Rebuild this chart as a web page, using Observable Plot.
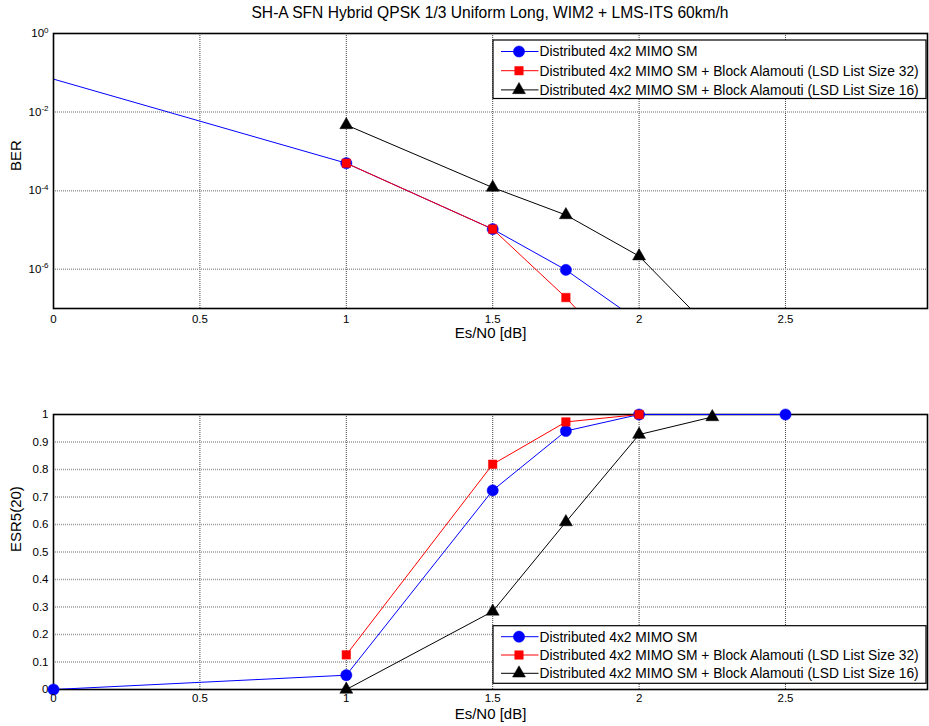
<!DOCTYPE html>
<html><head><meta charset="utf-8">
<script src="https://cdn.jsdelivr.net/npm/d3@7"></script>
<script src="https://cdn.jsdelivr.net/npm/@observablehq/plot@0.6"></script>
<style>
html,body{margin:0;padding:0;background:#fff;}
#fig{position:relative;width:929px;height:726px;overflow:hidden;font-family:"Liberation Sans",Arial,sans-serif;}
#title{position:absolute;left:53px;width:874px;top:4px;text-align:center;font-size:15.6px;color:#000;white-space:nowrap}
#topPlot{position:absolute;left:0;top:0}
#botPlot{position:absolute;left:0;top:363px}
</style></head><body>
<div id="fig">
  <div id="topPlot"></div>
  <div id="botPlot"></div>
  <div id="title">SH-A SFN Hybrid QPSK 1/3 Uniform Long, WIM2 + LMS-ITS 60km/h</div>
</div>
<script>
// ---------- data ----------
const seriesNames = [
  "Distributed 4x2 MIMO SM",
  "Distributed 4x2 MIMO SM + Block Alamouti (LSD List Size 32)",
  "Distributed 4x2 MIMO SM + Block Alamouti (LSD List Size 16)"
];
const seriesColors = ["#0000ff", "#ff0000", "#000000"];
const seriesSymbols = ["circle", "square", "triangle"];

// BER (top)
const berSnrBlue  = [0, 1, 1.5, 1.75, 2];
const berBlue     = [6.9e-2, 5.0e-4, 1.05e-5, 9.6e-7, 4.7e-8];
const berSnrRed   = [1, 1.5, 1.75, 2];
const berRed      = [5.0e-4, 1.05e-5, 1.9e-7, 1.8e-9];
const berSnrBlack = [1, 1.5, 1.75, 2, 2.25];
const berBlack    = [4.7e-3, 1.2e-4, 2.4e-5, 2.15e-6, 2.7e-8];

// ESR5(20) (bottom)
const esrSnrBlue  = [0, 1, 1.5, 1.75, 2, 2.5];
const esrBlue     = [0, 0.052, 0.724, 0.94, 1, 1];
const esrSnrRed   = [1, 1.5, 1.75, 2];
const esrRed      = [0.126, 0.819, 0.973, 1];
const esrSnrBlack = [1, 1.5, 1.75, 2, 2.25];
const esrBlack    = [0, 0.284, 0.609, 0.927, 0.991];

// ticks
const xTicks   = [0, 0.5, 1, 1.5, 2, 2.5];
const berTicks = [1, 1e-2, 1e-4, 1e-6];
const esrTicks = [0, 0.1, 0.2, 0.3, 0.4, 0.5, 0.6, 0.7, 0.8, 0.9, 1];
const xLabel = "Es/N0 [dB]";

// ---------- helpers ----------
const FONT = '"Liberation Sans", Arial, sans-serif';
const toRows = (xs, ys) => xs.map((x, i) => ({x, y: ys[i]}));
const berData = [toRows(berSnrBlue, berBlue), toRows(berSnrRed, berRed), toRows(berSnrBlack, berBlack)];
const esrData = [toRows(esrSnrBlue, esrBlue), toRows(esrSnrRed, esrRed), toRows(esrSnrBlack, esrBlack)];
const symR = [5.6, 4.8, 4.8];

function seriesMarks(data, markerFilter, clipDots) {
  const marks = [];
  data.forEach((rows, i) => {
    marks.push(Plot.line(rows, {x: "x", y: "y", stroke: seriesColors[i], strokeWidth: 1, clip: true}));
    marks.push(Plot.dot(rows, {x: "x", y: "y", symbol: () => seriesSymbols[i], r: symR[i],
      fill: seriesColors[i], stroke: seriesColors[i], strokeWidth: 0.5, clip: clipDots,
      filter: markerFilter ? (d) => markerFilter(i, d) : undefined}));
  });
  return marks;
}

function gridMarks(yTicksInner) {
  return [
    Plot.ruleX(xTicks.filter(t => t > 0), {stroke: "#444", strokeWidth: 1, strokeDasharray: "1,1"}),
    Plot.ruleY(yTicksInner, {stroke: "#9a9a9a", strokeWidth: 1.5, strokeDasharray: "1,1"})
  ];
}

function addLegend(svg, bx, by, bw, bh, rowStart, rowStep) {
  const g = d3.select(svg).append("g").attr("font-family", FONT).attr("text-anchor", "start");
  g.append("rect").attr("x", bx).attr("y", by).attr("width", bw).attr("height", bh)
    .attr("fill", "#fff").attr("stroke", "#000").attr("stroke-width", 1.2);
  seriesNames.forEach((name, i) => {
    const cy = by + rowStart + i * rowStep;
    g.append("line").attr("x1", bx + 8).attr("x2", bx + 45.5).attr("y1", cy).attr("y2", cy)
      .attr("stroke", seriesColors[i]).attr("stroke-width", 1);
    const sym = {circle: d3.symbolCircle, square: d3.symbolSquare, triangle: d3.symbolTriangle}[seriesSymbols[i]];
    g.append("path").attr("d", d3.symbol(sym, Math.PI * symR[i] * symR[i])())
      .attr("transform", `translate(${bx + 26},${cy})`)
      .attr("fill", seriesColors[i]).attr("stroke", seriesColors[i]).attr("stroke-width", 0.5);
    g.append("text").attr("x", bx + 46.5).attr("y", cy).attr("dy", "0.35em")
      .attr("text-anchor", "start")
      .attr("font-size", "13.8px").attr("fill", "#000").text(name);
  });
}

// ---------- top: BER ----------
const topSvg = Plot.plot({
  width: 929, height: 363,
  marginLeft: 53, marginRight: 2, marginTop: 33, marginBottom: 55,
  style: {fontFamily: FONT, fontSize: "11.5px", color: "#000", background: "transparent", overflow: "visible"},
  x: {domain: [0, 2.985]},
  y: {type: "log", domain: [1e-7, 1]},
  marks: [
    ...gridMarks(berTicks.slice(1)),
    ...seriesMarks(berData, (i, d) => d.x > 0, true),
    Plot.frame({stroke: "#000", strokeWidth: 1.6}),
    Plot.axisX({ticks: xTicks, tickSize: 0, tickPadding: 6, tickFormat: d => String(d), label: null}),
    Plot.axisY({ticks: berTicks, tickSize: 0, tickPadding: 5,
      tickFormat: d => "10^" + Math.round(Math.log10(d)), label: null}),
    Plot.text([xLabel], {frameAnchor: "bottom", dy: 29, fontSize: 15, fill: "#000"}),
    Plot.text(["BER"], {frameAnchor: "left", dx: -37, rotate: -90, fontSize: 15, fill: "#000"})
  ]
});
d3.select(topSvg).selectAll('g[aria-label="y-axis tick label"] text').each(function () {
  const parts = this.textContent.split("^");
  if (parts.length < 2) return;
  const sel = d3.select(this);
  sel.text(parts[0]);
  sel.append("tspan").attr("dy", "-0.55em").attr("font-size", "8px").text(parts[1]);
});
addLegend(topSvg, 493, 40, 433, 58.5, 11.5, 19.2);
document.getElementById("topPlot").append(topSvg);

// ---------- bottom: ESR5(20) ----------
const botSvg = Plot.plot({
  width: 929, height: 363,
  marginLeft: 53, marginRight: 2, marginTop: 51, marginBottom: 37,
  style: {fontFamily: FONT, fontSize: "11.5px", color: "#000", background: "transparent", overflow: "visible"},
  x: {domain: [0, 2.985]},
  y: {domain: [0, 1]},
  marks: [
    ...gridMarks(esrTicks.filter(t => t > 0 && t < 1)),
    Plot.frame({stroke: "#000", strokeWidth: 1.6}),
    ...seriesMarks(esrData, null, false),
    Plot.axisX({ticks: xTicks, tickSize: 0, tickPadding: 4, tickFormat: d => String(d), label: null}),
    Plot.axisY({ticks: esrTicks, tickSize: 0, tickPadding: 5, tickFormat: d => String(d), label: null}),
    Plot.text([xLabel], {frameAnchor: "bottom", dy: 29, fontSize: 15, fill: "#000"}),
    Plot.text(["ESR5(20)"], {frameAnchor: "left", dx: -37, rotate: -90, fontSize: 15, fill: "#000"})
  ]
});
addLegend(botSvg, 493, 262.7, 433, 57.6, 11, 18.3);
document.getElementById("botPlot").append(botSvg);
</script>
</body></html>
